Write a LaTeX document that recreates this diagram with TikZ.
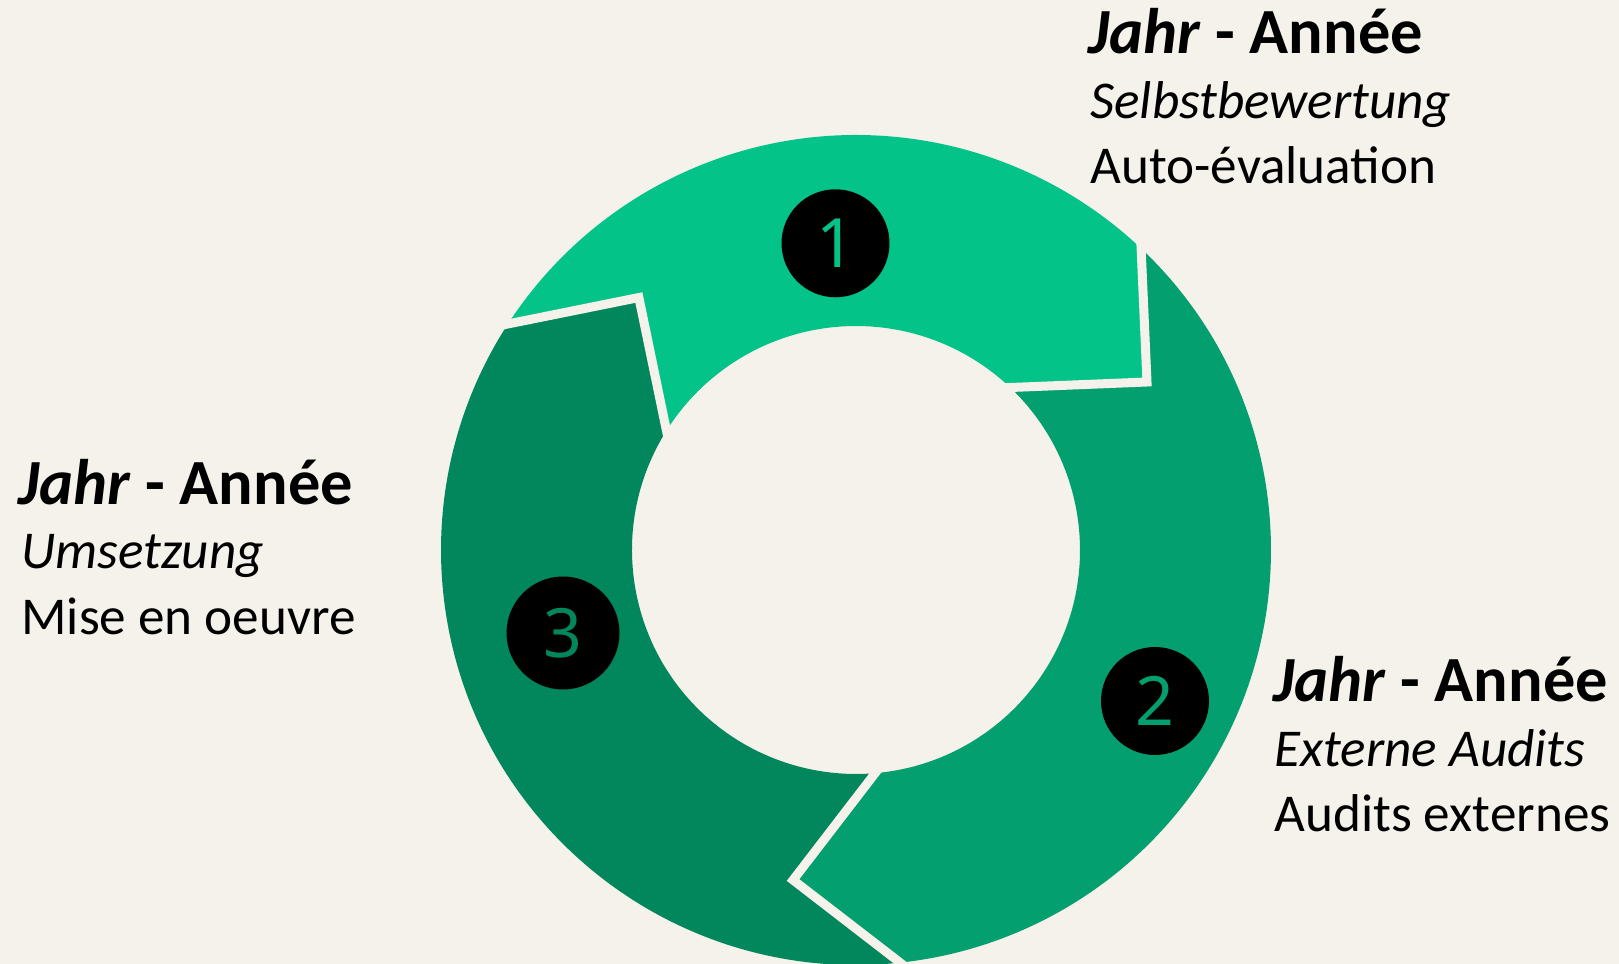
\documentclass[tikz,border=0pt]{standalone}
\usepackage{fontspec}
\setmainfont{Carlito}
\newfontfamily\digitfont{Noto Sans}
\definecolor{bgc}{RGB}{245,242,235}
\definecolor{segA}{RGB}{4,195,137}
\definecolor{segB}{RGB}{4,159,110}
\definecolor{segC}{RGB}{2,134,92}
\tikzset{
  gapline/.style={draw=bgc, line width=4.5pt, line join=miter, shorten <=-8pt, shorten >=-8pt},
  numcircle/.style={circle, fill=black, minimum size=54pt, inner sep=0pt, font=\digitfont\fontsize{34}{36}\selectfont},
  ttl/.style={anchor=base west, inner sep=0pt, font=\fontsize{32.2}{37}\selectfont\bfseries},
  bodytext/.style={anchor=base west, inner sep=0pt, font=\fontsize{26.6}{33}\selectfont},
}
\begin{document}
\begin{tikzpicture}[x=0.5pt,y=0.5pt]
\fill[bgc] (0,0) rectangle (1619,964);
\useasboundingbox (0,0) rectangle (1619,964);
\begin{scope}[shift={(856,414)}]
  % segment 1 (light)
  \fill[segA] (147:415) arc[start angle=147, end angle=46.6, radius=415]
     -- (30:336) -- (46.5:224) arc[start angle=46.5, end angle=147.8, radius=224]
     -- (130.7:333) -- cycle;
  % segment 2 (medium)
  \fill[segB] (46.6:415) arc[start angle=46.6, end angle=-83.9, radius=415]
     -- (-100.8:336) -- (-85.1:224) arc[start angle=-85.1, end angle=46.5, radius=224]
     -- (30:336) -- cycle;
  % segment 3 (dark)
  \fill[segC] (-83.9:415) arc[start angle=-83.9, end angle=-213, radius=415]
     -- (130.7:333) -- (147.8:224) arc[start angle=-212.2, end angle=-85.1, radius=224]
     -- (-100.8:336) -- cycle;
  % separators
  \draw[gapline] (147:415) -- (130.7:333) -- (147.8:224);
  \draw[gapline] (46.6:415) -- (30:336) -- (46.5:224);
  \draw[gapline] (-83.9:415) -- (-100.8:336) -- (-85.1:224);
\end{scope}
\node[numcircle, text=segA] (n1) at (835.5,720.7) {1};
\node[numcircle, text=segB] (n2) at (1155,263) {2};
\node[numcircle, text=segC, minimum size=56.5pt] (n3) at (563,331) {3};
% top block
\node[ttl] (t1) at (1088,910.7) {\itshape Jahr\/\upshape{} - Année};
\node[bodytext] (t1b) at (1090,845.7) {\itshape Selbstbewertung};
\node[bodytext] (t1c) at (1090,780.7) {Auto-évaluation};
% right block
\node[ttl] (t2) at (1273,262.3) {\itshape Jahr\/\upshape{} - Année};
\node[bodytext] (t2b) at (1274,197.3) {\itshape Externe Audits};
\node[bodytext] (t2c) at (1274,132.3) {Audits externes};
% left block
\node[ttl] (t3) at (18,459) {\itshape Jahr\/\upshape{} - Année};
\node[bodytext] (t3b) at (21,395) {\itshape Umsetzung};
\node[bodytext] (t3c) at (21,329) {Mise en oeuvre};
\end{tikzpicture}
\end{document}
